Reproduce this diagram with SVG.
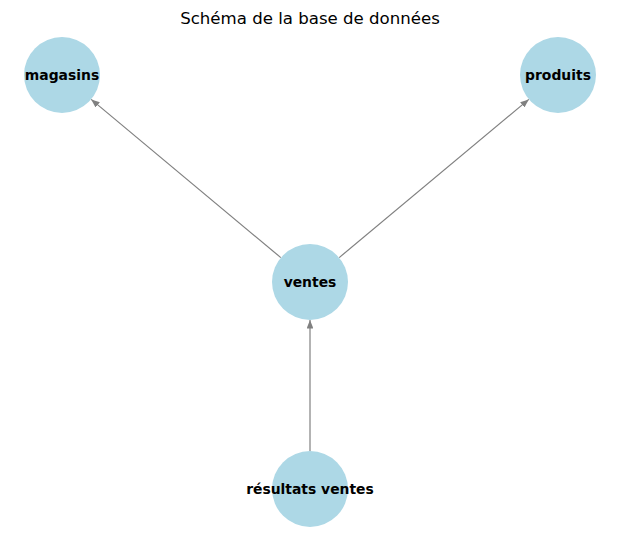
<svg xmlns="http://www.w3.org/2000/svg" width="619" height="542" viewBox="0 0 619 542">
<style>
.node circle{fill:#add8e6;}
.node text{font-family:"DejaVu Sans",sans-serif;font-weight:bold;font-size:13.9px;fill:#000;text-anchor:middle;dominant-baseline:central;}
.edge{stroke:#808080;stroke-width:1.2;fill:none;marker-end:url(#arr);}
.title{font-family:"DejaVu Sans",sans-serif;font-size:16.6px;fill:#000;text-anchor:middle;}
</style>
<defs>
<marker id="arr" viewBox="0 0 10 8" refX="10" refY="4" markerWidth="8.5" markerHeight="6.8" markerUnits="userSpaceOnUse" orient="auto">
<path d="M0,0 L10,4 L0,8 Z" fill="#808080"/>
</marker>
</defs>
<rect width="619" height="542" fill="#fff"/>
<text class="title" x="310" y="24">Schéma de la base de données</text>
<g id="connectors">
<line class="edge" x1="280.8" y1="257.6" x2="91.2" y2="99.4"/>
<line class="edge" x1="339.2" y1="257.6" x2="528.8" y2="99.4"/>
<line class="edge" x1="310" y1="451" x2="310" y2="320"/>
</g>
<g id="magasins" class="node"><circle cx="62" cy="75" r="38"/><text x="62" y="75">magasins</text></g>
<g id="produits" class="node"><circle cx="558" cy="75" r="38"/><text x="558" y="75">produits</text></g>
<g id="ventes" class="node"><circle cx="310" cy="282" r="38"/><text x="310" y="282">ventes</text></g>
<g id="resultats_ventes" class="node"><circle cx="310" cy="489" r="38"/><text x="310" y="489">résultats ventes</text></g>
</svg>
